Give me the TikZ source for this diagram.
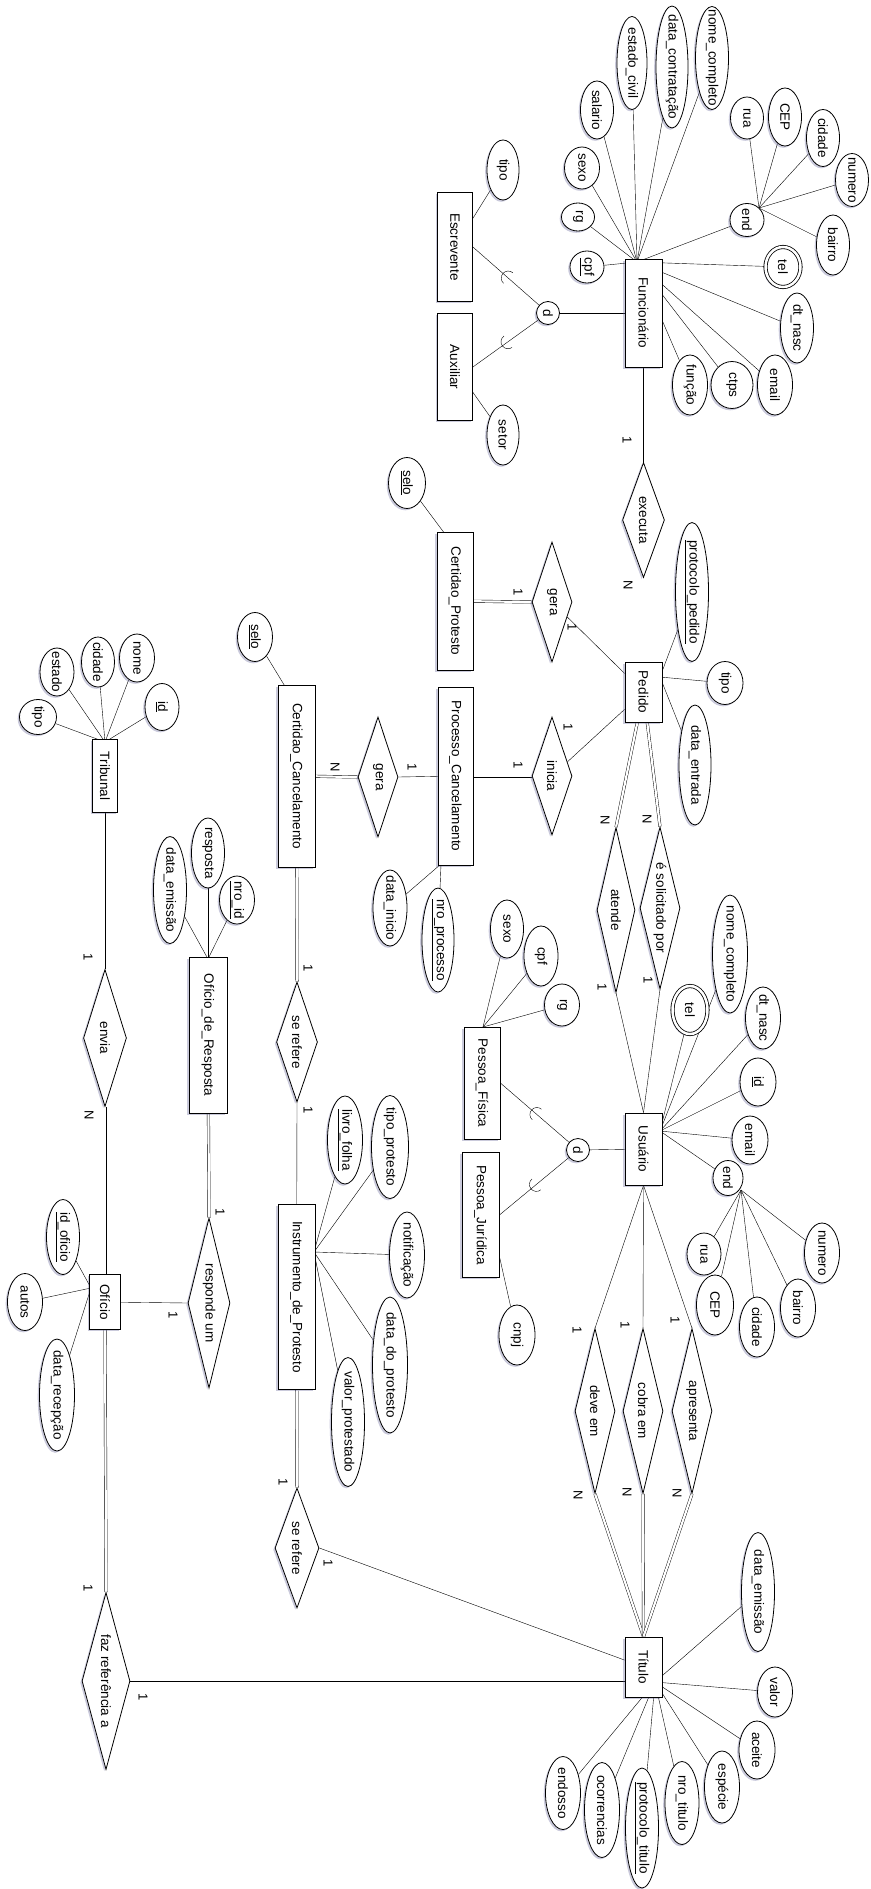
\documentclass[tikz,border=0pt]{standalone}
\usepackage{fontspec}
\setmainfont{Liberation Sans}
\usetikzlibrary{shapes.geometric, decorations.markings, calc, shadows}
\pgfdeclarelayer{bg}
\pgfsetlayers{bg,main}
\newcommand{\At}[5]{\node[attr, minimum width=#4pt, minimum height=#5pt] (#1) at (#2) {\makebox[0pt]{#3}};}
\newcommand{\Mv}[5]{\node[mattr, minimum width=#4pt, minimum height=#5pt] (#1) at (#2) {\makebox[0pt]{#3}};}
\newcommand{\Rl}[5]{\node[rel, minimum width=#4pt, minimum height=#5pt] (#1) at (#2) {\makebox[0pt]{#3}};}
\newcommand{\Ct}[3]{\node[card] (#1) at (#2) {#3};}
\begin{document}
\begin{tikzpicture}[x=1pt, y=-1pt, line width=0.8pt,
  every node/.style={font=\fontsize{13.5}{15}\selectfont, rotate=-90, inner sep=0pt},
  shd/.style={drop shadow={shadow xshift=-1.8pt, shadow yshift=-1.8pt, fill=blue!20!gray, opacity=0.35}},
  ent/.style={draw, rectangle, fill=white, shd},
  rel/.style={draw, diamond, aspect=4, fill=white, shd},
  attr/.style={draw, ellipse, fill=white, shd},
  mattr/.style={attr, double, double distance=2.5pt},
  spec/.style={draw, circle, minimum size=23pt, fill=white, shd},
  card/.style={font=\fontsize{13}{14}\selectfont},
  dbl/.style={double, double distance=2.2pt},
  sub/.style={postaction={decorate}, decoration={markings, mark=at position #1 with {\draw (3pt,7pt) arc[start angle=90, end angle=270, radius=7pt];}}},
]
\useasboundingbox (0,0) rectangle (870,1889);

% ---------- entities ----------
\node[ent, minimum width=109pt, minimum height=35pt] (esc) at (455,247) {Escrevente};
\node[ent, minimum width=107pt, minimum height=35pt] (aux) at (455,367) {Auxiliar};
\node[ent, minimum width=108pt, minimum height=37pt] (func) at (643.5,313) {Funcionário};
\node[ent, minimum width=138pt, minimum height=36pt] (cprot) at (455,601) {Certidao\_Protesto};
\node[ent, minimum width=60pt, minimum height=37pt] (ped) at (643.5,692) {Pedido};
\node[ent, minimum width=178pt, minimum height=35pt] (pc) at (455.5,776) {Processo\_Cancelamento};
\node[ent, minimum width=182pt, minimum height=37pt] (cc) at (296.5,776) {Certidao\_Cancelamento};
\node[ent, minimum width=73pt, minimum height=25pt] (trib) at (105,776) {Tribunal};
\node[ent, minimum width=156pt, minimum height=38pt] (odr) at (208,1035) {Ofício\_de\_Resposta};
\node[ent, minimum width=185pt, minimum height=37pt] (idp) at (296.5,1297) {Instrumento\_de\_Protesto};
\node[ent, minimum width=55pt, minimum height=31pt] (ofi) at (105,1302) {Ofício};
\node[ent, minimum width=112pt, minimum height=36pt] (pf) at (482,1083) {Pessoa\_Física};
\node[ent, minimum width=125pt, minimum height=37pt] (pj) at (480.5,1215) {Pessoa\_Jurídica};
\node[ent, minimum width=72pt, minimum height=37pt] (usu) at (643.5,1149) {Usuário};
\node[ent, minimum width=60pt, minimum height=37pt] (tit) at (643.5,1667) {Título};

% ---------- relationships ----------
\Rl{exe}{643.5,520}{executa}{115}{42}
\Rl{gera1}{552,602}{gera}{120}{40}
\Rl{ini}{552,776}{inicia}{118}{40}
\Rl{gera2}{378,777}{gera}{120}{40}
\Rl{ate}{616,910}{atende}{165}{38}
\Rl{sol}{660,908}{é solicitado por}{162}{40}
\Rl{env}{105,1038}{envia}{137}{43}
\Rl{sr1}{297,1042}{se refere}{120}{41}
\Rl{resp}{209,1303}{responde um}{170}{42}
\Rl{sr2}{297,1548}{se refere}{120}{44}
\Rl{faz}{106,1681}{faz referência a}{177}{48}
\Rl{dev}{595,1411}{deve em}{165}{40}
\Rl{cob}{643,1411}{cobra em}{165}{40}
\Rl{apr}{692,1411}{apresenta}{165}{40}

\node[spec] (d1) at (548,313) {d};
\node[spec] (d2) at (578,1150) {d};

% ---------- attributes ----------
\At{fcpf}{587,267}{\underline{cpf}}{32}{34}
\At{frg}{578,217}{rg}{28}{33}
\At{fsexo}{582,168}{sexo}{42}{35}
\At{fsal}{597,110}{salario}{58}{33}
\At{fest}{632,63}{estado\_civil}{93}{30}
\At{fdc}{672,67}{data\_contratação}{122}{32}
\At{fnome}{712,58}{nome\_completo}{103}{33}
\At{fend}{747,220}{end}{33}{34}
\At{eArua}{747,118}{rua}{42}{33}
\At{eAcep}{785,117}{CEP}{58}{33}
\At{eAcid}{823,138}{cidade}{57}{33}
\At{eAnum}{852,180}{numero}{53}{33}
\At{eAbai}{833,245}{bairro}{60}{33}
\Mv{ftel}{783,267}{tel}{40}{35}
\At{fdt}{797,328}{dt\_nasc}{70}{33}
\At{femail}{775,385}{email}{60}{35}
\At{fctps}{732,385}{ctps}{47}{42}
\At{ffun}{690,385}{função}{60}{35}
\At{etipo}{503,170}{tipo}{60}{32}
\At{asetor}{503,435}{setor}{60}{32}
\At{cpselo}{407,483}{\underline{selo}}{51}{37}
\At{pprot}{692,592}{\underline{protocolo\_pedido}}{139}{33}
\At{ptipo}{725,683}{tipo}{43}{36}
\At{pdata}{695,765}{data\_entrada}{120}{32}
\At{ccselo}{255,637}{\underline{selo}}{49}{35}
\At{pcdata}{390,908}{data\_inicio}{76}{34}
\At{pcnro}{438,940}{\underline{nro\_processo}}{104}{32}
\At{ttipo}{38,717}{tipo}{35}{37}
\At{test}{57,672}{estado}{48}{34}
\At{tcid}{98,662}{cidade}{50}{33}
\At{tnome}{137,658}{nome}{48}{35}
\At{tid}{162,707}{\underline{id}}{47}{34}
\At{oresp}{208,853}{resposta}{70}{33}
\At{odata}{170,890}{data\_emissão}{107}{33}
\At{onro}{237,900}{\underline{nro\_id}}{48}{35}
\At{ilivro}{345,1140}{\underline{livro\_folha}}{88}{35}
\At{itipo}{390,1147}{tipo\_protesto}{103}{37}
\At{inot}{407,1255}{notificação}{86}{35}
\At{idata}{390,1365}{data\_do\_protesto}{136}{35}
\At{ivalor}{348,1422}{valor\_protestado}{129}{33}
\At{ofid}{63,1237}{\underline{id\_oficio}}{75}{33}
\At{ofaut}{25,1302}{autos}{57}{35}
\At{ofdata}{57,1395}{data\_recepção}{112}{35}
\At{pfsexo}{507,929}{sexo}{58}{33}
\At{pfcpf}{541,956}{cpf}{60}{34}
\At{pfrg}{562,1005}{rg}{42}{35}
\At{pjcnpj}{517,1335}{cnpj}{60}{36}
\Mv{utel}{690,1010}{tel}{48}{35}
\At{unome}{730,954}{nome\_completo}{118}{35}
\At{udt}{763,1018}{dt\_nasc}{62}{35}
\At{uid}{758,1082}{\underline{id}}{48}{36}
\At{uemail}{750,1140}{email}{48}{36}
\At{uend}{728,1178}{end}{35}{30}
\At{urua}{704,1254}{rua}{42}{34}
\At{ucep}{715,1305}{CEP}{60}{37}
\At{ucid}{757,1327}{cidade}{60}{35}
\At{ubai}{798,1308}{bairro}{58}{35}
\At{unum}{822,1253}{numero}{60}{35}
\At{tdem}{758,1592}{data\_emissão}{119}{33}
\At{tval}{775,1692}{valor}{50}{35}
\At{tace}{757,1750}{aceite}{58}{36}
\At{tesp}{722,1787}{espécie}{72}{35}
\At{tnro}{682,1803}{nro\_titulo}{83}{34}
\At{tprot}{642,1828}{\underline{protocolo\_titulo}}{120}{33}
\At{toco}{602,1810}{ocorrencias}{95}{35}
\At{tend}{563,1793}{endosso}{73}{35}

% ---------- hubs ----------
\coordinate (fH) at (637,262);
\coordinate (fE) at (759,208);
\coordinate (cpH) at (445,534);
\coordinate (pH) at (660,677);
\coordinate (ccH) at (286,688);
\coordinate (pcH) at (441,864);
\coordinate (tH) at (105,742);
\coordinate (oH) at (208,959);
\coordinate (iH) at (314,1252);
\coordinate (ofH) at (91,1288);
\coordinate (pfH) at (483,1027);
\coordinate (pjH) at (498,1250);
\coordinate (uH) at (660,1131);
\coordinate (ueH) at (741,1190);
\coordinate (tiH) at (655,1682);

% ---------- cardinalities ----------
\Ct{k1}{627,440}{1}
\Ct{k2}{628,585}{N}
\Ct{k3}{518,592}{1}
\Ct{k4}{572,627}{1}
\Ct{k5}{568,727}{1}
\Ct{k6}{518,765}{1}
\Ct{k7}{335,767}{N}
\Ct{k8}{412,767}{1}
\Ct{k9}{605,820}{N}
\Ct{k10}{647,819}{N}
\Ct{k11}{602,987}{1}
\Ct{k12}{648,980}{1}
\Ct{k13}{577,1330}{1}
\Ct{k14}{625,1325}{1}
\Ct{k15}{675,1320}{1}
\Ct{k16}{578,1495}{N}
\Ct{k17}{627,1492}{N}
\Ct{k18}{677,1493}{N}
\Ct{k19}{88,957}{1}
\Ct{k20}{89,1115}{N}
\Ct{k21}{308,968}{1}
\Ct{k22}{308,1110}{1}
\Ct{k23}{220,1212}{1}
\Ct{k24}{173,1315}{1}
\Ct{k25}{283,1482}{1}
\Ct{k26}{328,1563}{1}
\Ct{k27}{88,1588}{1}
\Ct{k28}{143,1697}{1}

\begin{pgfonlayer}{bg}
% attribute links
\foreach \a in {fcpf,frg,fsexo,fsal,fest,fdc,fnome,fend,ftel,fdt,femail,fctps,ffun} \draw (\a) -- (fH);
\foreach \a in {eArua,eAcep,eAcid,eAnum,eAbai} \draw (\a) -- (fE);
\draw (etipo) -- (esc);
\draw (asetor) -- (aux);
\draw (cpselo) -- (cpH);
\foreach \a in {pprot,ptipo,pdata} \draw (\a) -- (pH);
\draw (ccselo) -- (ccH);
\foreach \a in {pcdata,pcnro} \draw (\a) -- (pcH);
\foreach \a in {ttipo,test,tcid,tnome,tid} \draw (\a) -- (tH);
\foreach \a in {oresp,odata,onro} \draw (\a) -- (oH);
\foreach \a in {ilivro,itipo,inot,idata,ivalor} \draw (\a) -- (iH);
\foreach \a in {ofid,ofaut,ofdata} \draw (\a) -- (ofH);
\foreach \a in {pfsexo,pfcpf,pfrg} \draw (\a) -- (pfH);
\draw (pjcnpj) -- (pjH);
\foreach \a in {utel,unome,udt,uid,uemail,uend} \draw (\a) -- (uH);
\foreach \a in {urua,ucep,ucid,ubai,unum} \draw (\a) -- (ueH);
\foreach \a in {tdem,tval,tace,tesp,tnro,tprot,toco,tend} \draw (\a) -- (tiH);

% specializations
\draw (d1) -- (func);
\draw[sub=0.5] (esc.north) -- (d1);
\draw[sub=0.5] (aux.north) -- (d1);
\draw (d2) -- (usu);
\draw[sub=0.5] (pf.north) -- (d2);
\draw[sub=0.5] (pj.north) -- (d2);

% relationships
\draw (func) -- (exe.west);
\draw[dbl] (exe.east) -- (ped);
\draw[dbl] (cprot) -- (gera1.south);
\draw (gera1) -- (ped);
\draw (ini) -- (ped);
\draw[dbl] (pc) -- (ini.south);
\draw[dbl] (cc) -- (gera2.south);
\draw (gera2.north) -- (pc);
\draw[dbl] (ped) -- (ate.west);
\draw[dbl] (ped) -- (sol.west);
\draw (ate.east) -- (usu.west);
\draw (sol.east) -- (usu.west);
\draw (usu.east) -- (dev.west);
\draw (usu.east) -- (cob.west);
\draw (usu.east) -- (apr.west);
\draw[dbl] (dev.east) -- (tit.west);
\draw[dbl] (cob.east) -- (tit.west);
\draw[dbl] (apr.east) -- (tit.west);
\draw (trib) -- (env.west);
\draw[dbl] (env.east) -- (ofi);
\draw[dbl] (cc) -- (sr1.west);
\draw (sr1.east) -- (idp);
\draw[dbl] (odr) -- (resp.west);
\draw (ofi) -- (resp.south);
\draw[dbl] (idp) -- (sr2.west);
\draw (sr2.north) -- (tit);
\draw[dbl] (ofi) -- (faz.west);
\draw (faz.north) -- (faz.north -| tit.south);
\end{pgfonlayer}
\end{tikzpicture}
\end{document}
